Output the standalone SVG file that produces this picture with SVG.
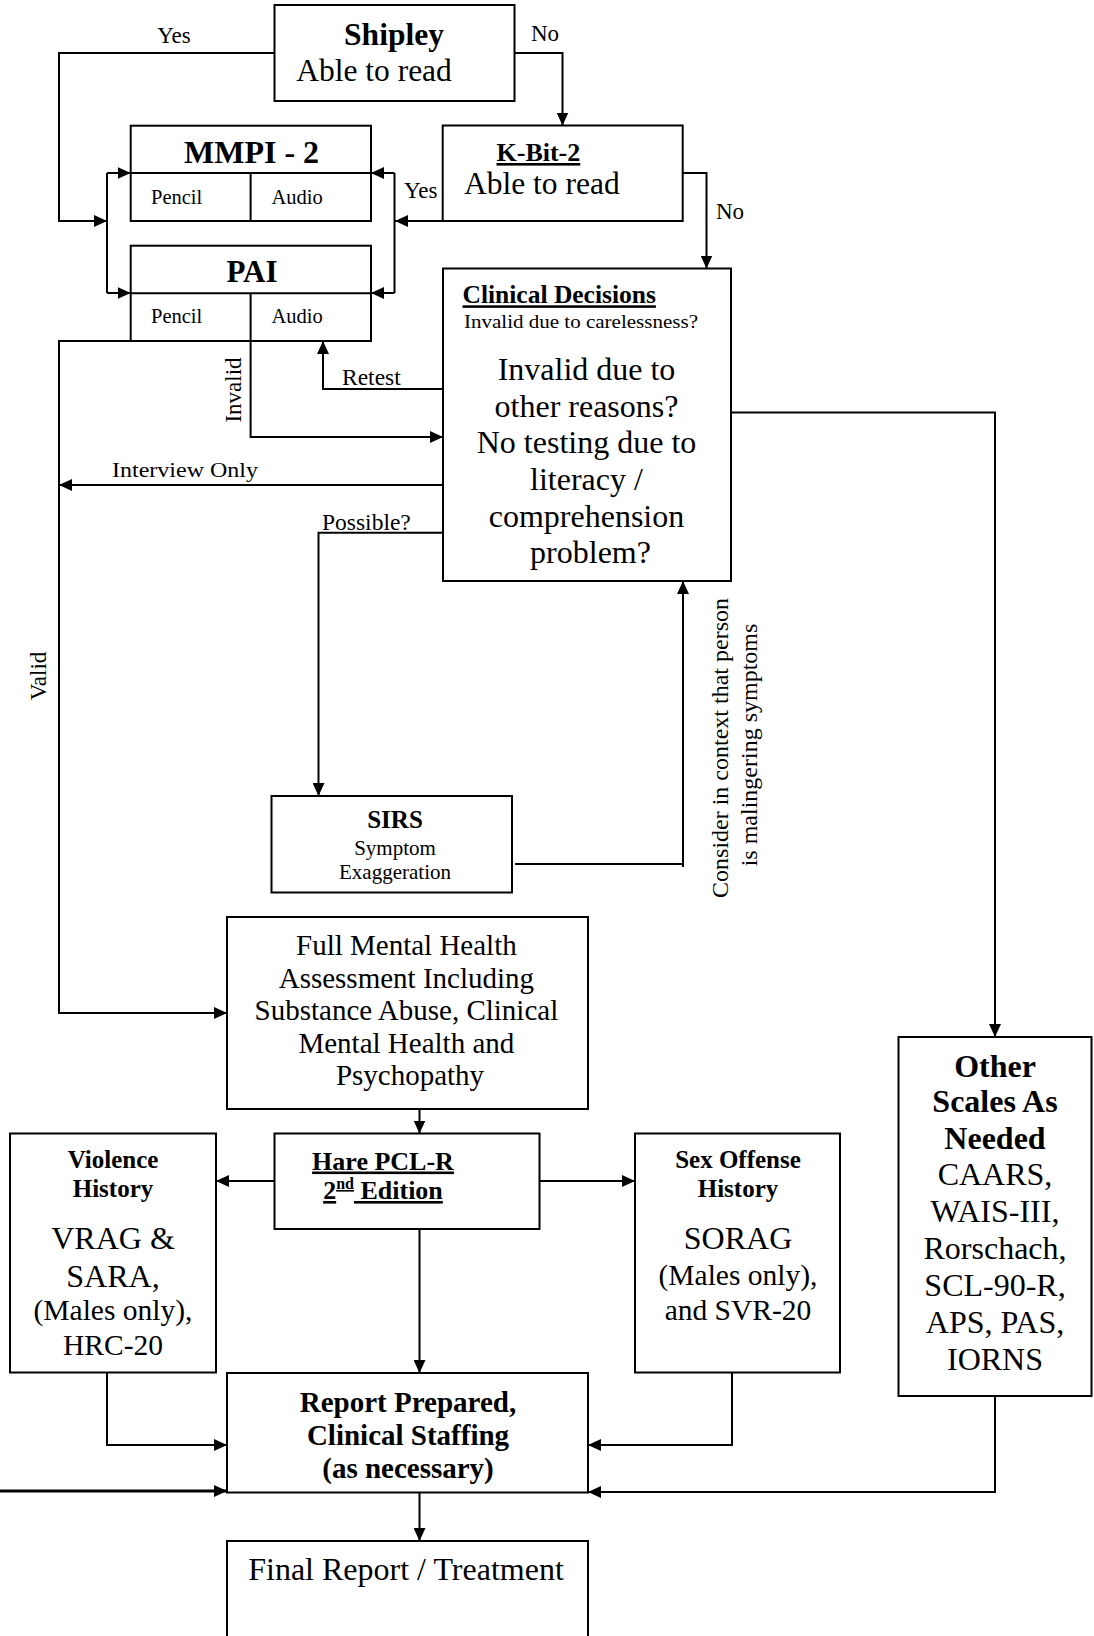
<svg xmlns="http://www.w3.org/2000/svg" width="1094" height="1636" viewBox="0 0 1094 1636">
<defs>
<marker id="ah" viewBox="0 0 13 12" refX="13" refY="6" markerWidth="13" markerHeight="12" markerUnits="userSpaceOnUse" orient="auto"><path d="M0,0 L13,6 L0,12 z" fill="#000"/></marker>
<style>
.box{fill:#fff;stroke:#000;stroke-width:2}
.ln{fill:none;stroke:#000;stroke-width:2}
.c{fill:none;stroke:#000;stroke-width:2;marker-end:url(#ah)}
text{font-family:"Liberation Serif","Times New Roman",serif;fill:#000}
.b{font-weight:bold}
.m{text-anchor:middle}
.u{text-decoration:underline}
</style>
</defs>
<rect width="1094" height="1636" fill="#fff"/>

<g id="connectors">
<path class="c" d="M274.5,53 H59 V221 H107"/>
<path class="ln" d="M107,173 V293"/>
<path class="c" d="M107,173 H130.7"/>
<path class="c" d="M107,293 H130.7"/>
<path class="c" d="M514.5,53 H562.5 V125.5"/>
<path class="c" d="M442.7,221 H395"/>
<path class="ln" d="M394.5,173 V293"/>
<path class="c" d="M394.5,173 H371"/>
<path class="c" d="M394.5,293 H371"/>
<path class="c" d="M682.7,173 H706.5 V268.5"/>
<path class="c" d="M443,389 H323 V341"/>
<path class="c" d="M250.6,341 V437 H443"/>
<path class="c" d="M443,485 H59"/>
<path class="c" d="M130.7,341 H59 V1013 H227"/>
<path class="c" d="M443,532.7 H318.5 V796"/>
<path class="c" d="M515,864 H683 V581"/>
<path class="ln" d="M683,864 V867"/>
<path class="c" d="M731,412.6 H995 V1037"/>
<path class="c" d="M419.5,1109 V1133.5"/>
<path class="c" d="M274.5,1181 H216"/>
<path class="c" d="M539.5,1181 H635"/>
<path class="c" d="M419.5,1229 V1373"/>
<path class="c" d="M107,1372.5 V1445 H227"/>
<path class="c" d="M732,1372.5 V1445 H588"/>
<path class="c" d="M995,1396 V1492 H588"/>
<path class="c" d="M0,1491 H227" style="stroke-width:3"/>
<path class="c" d="M419.5,1492.5 V1541"/>
</g>

<g id="labels">
<text x="174" y="43" class="m" font-size="23">Yes</text>
<text x="531" y="41" font-size="23">No</text>
<text x="404" y="198" font-size="23">Yes</text>
<text x="716" y="219" font-size="23">No</text>
<text x="342" y="385" font-size="23.5">Retest</text>
<text transform="translate(241,390) rotate(-90)" class="m" font-size="23">Invalid</text>
<text x="112" y="476.7" font-size="20" textLength="146" lengthAdjust="spacingAndGlyphs">Interview Only</text>
<text x="322" y="530" font-size="23.5">Possible?</text>
<text transform="translate(46,676) rotate(-90)" class="m" font-size="23">Valid</text>
<text transform="translate(728,748) rotate(-90)" class="m" font-size="24">Consider in context that person</text>
<text transform="translate(757,745) rotate(-90)" class="m" font-size="24">is malingering symptoms</text>
</g>

<g id="shipley">
<rect class="box" x="274.5" y="5" width="240" height="96"/>
<text x="394" y="45" class="m b" font-size="31.5">Shipley</text>
<text x="374" y="81" class="m" font-size="31.5">Able to read</text>
</g>

<g id="mmpi2">
<rect class="box" x="130.7" y="125.7" width="240.3" height="95.3"/>
<path class="ln" d="M130.7,173 H371 M250.6,173 V221"/>
<text x="251.5" y="162.5" class="m b" font-size="32">MMPI - 2</text>
<text x="151" y="204" font-size="20.5">Pencil</text>
<text x="271.5" y="204" font-size="20.5">Audio</text>
</g>

<g id="pai">
<rect class="box" x="130.7" y="245.7" width="240.3" height="95.3"/>
<path class="ln" d="M130.7,293.3 H371 M250.6,293.3 V341"/>
<text x="252" y="281.7" class="m b" font-size="31">PAI</text>
<text x="151" y="323" font-size="20.5">Pencil</text>
<text x="271.5" y="323" font-size="20.5">Audio</text>
</g>

<g id="kbit2">
<rect class="box" x="442.7" y="125.5" width="240" height="95.5"/>
<text x="496.5" y="161" class="b u" font-size="26">K-Bit-2</text>
<text x="464" y="194" font-size="31.5">Able to read</text>
</g>

<g id="clinical-decisions">
<rect class="box" x="443" y="268.5" width="288" height="312.5"/>
<text x="462.5" y="303.3" class="b u" font-size="25.5">Clinical Decisions</text>
<text x="464" y="328.3" font-size="18" textLength="234" lengthAdjust="spacingAndGlyphs">Invalid due to carelessness?</text>
<text class="m" font-size="32">
<tspan x="590.5" y="380">Invalid due to</tspan>
<tspan x="590.5" y="416.7">other reasons?</tspan>
<tspan x="590.5" y="453.3">No testing due to</tspan>
<tspan x="590.5" y="490">literacy /</tspan>
<tspan x="590.5" y="526.7">comprehension</tspan>
<tspan x="590.5" y="563.3">problem?</tspan>
</text>
</g>

<g id="sirs">
<rect class="box" x="271.5" y="796" width="240.5" height="96.5"/>
<text x="395" y="828" class="m b" font-size="25">SIRS</text>
<text x="395" y="855" class="m" font-size="21">Symptom</text>
<text x="395" y="879" class="m" font-size="21">Exaggeration</text>
</g>

<g id="full-assessment">
<rect class="box" x="227" y="917" width="361" height="192"/>
<text class="m" font-size="29">
<tspan x="410" y="955">Full Mental Health</tspan>
<tspan x="410" y="987.5">Assessment Including</tspan>
<tspan x="410" y="1020">Substance Abuse, Clinical</tspan>
<tspan x="410" y="1052.5">Mental Health and</tspan>
<tspan x="410" y="1085">Psychopathy</tspan>
</text>
</g>

<g id="hare">
<rect class="box" x="274.5" y="1133.5" width="265" height="95.5"/>
<text x="383" y="1169.5" class="m b u" font-size="26">Hare PCL-R</text>
<text x="383" y="1199" class="m b u" font-size="26">2<tspan dy="-10" font-size="16">nd</tspan><tspan dy="10"> Edition</tspan></text>
</g>

<g id="violence">
<rect class="box" x="10" y="1133.5" width="206" height="239"/>
<text x="113" y="1168" class="m b" font-size="25">Violence</text>
<text x="113" y="1197" class="m b" font-size="25">History</text>
<text x="113" y="1249" class="m" font-size="32">VRAG &amp;</text>
<text x="113" y="1286.5" class="m" font-size="32">SARA,</text>
<text x="113" y="1320" class="m" font-size="29.5">(Males only),</text>
<text x="113" y="1355" class="m" font-size="29.5">HRC-20</text>
</g>

<g id="sex-offense">
<rect class="box" x="635" y="1133.5" width="205" height="239"/>
<text x="738" y="1168" class="m b" font-size="25">Sex Offense</text>
<text x="738" y="1197" class="m b" font-size="25">History</text>
<text x="738" y="1249" class="m" font-size="32">SORAG</text>
<text x="738" y="1285" class="m" font-size="29.5">(Males only),</text>
<text x="738" y="1320" class="m" font-size="29.5">and SVR-20</text>
</g>

<g id="other-scales">
<rect class="box" x="898.5" y="1037" width="193" height="359"/>
<text x="995" y="1076.7" class="m b" font-size="32">Other</text>
<text x="995" y="1112" class="m b" font-size="32">Scales As</text>
<text x="995" y="1148.5" class="m b" font-size="32">Needed</text>
<text x="995" y="1185" class="m" font-size="32">CAARS,</text>
<text x="995" y="1222" class="m" font-size="32">WAIS-III,</text>
<text x="995" y="1259" class="m" font-size="32">Rorschach,</text>
<text x="995" y="1296" class="m" font-size="32">SCL-90-R,</text>
<text x="995" y="1333" class="m" font-size="32">APS, PAS,</text>
<text x="995" y="1370" class="m" font-size="32">IORNS</text>
</g>

<g id="report">
<rect class="box" x="227" y="1373" width="361" height="119.5"/>
<text x="408" y="1411.7" class="m b" font-size="29">Report Prepared,</text>
<text x="408" y="1445" class="m b" font-size="29">Clinical Staffing</text>
<text x="408" y="1478" class="m b" font-size="29">(as necessary)</text>
</g>

<g id="final">
<rect class="box" x="227" y="1541" width="361" height="110"/>
<text x="406" y="1580" class="m" font-size="32">Final Report / Treatment</text>
</g>
</svg>
